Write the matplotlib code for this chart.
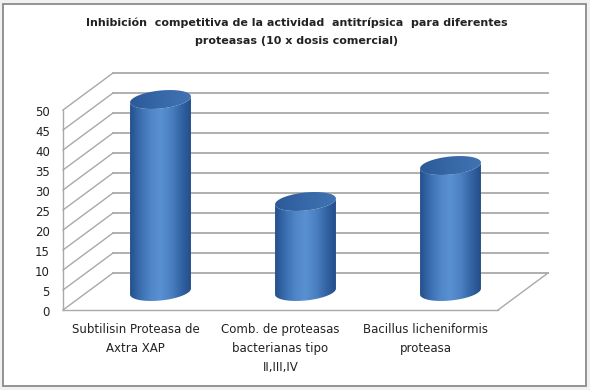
import numpy as np
import matplotlib
matplotlib.use("Agg")
import matplotlib.pyplot as plt
from matplotlib.patches import Polygon, Rectangle
from matplotlib.colors import LinearSegmentedColormap

# --- data ---
title = "Inhibición  competitiva de la actividad  antitrípsica  para diferentes\nproteasas (10 x dosis comercial)"
categories = ["Subtilisin Proteasa de\nAxtra XAP",
              "Comb. de proteasas\nbacterianas tipo\nII,III,IV",
              "Bacillus licheniformis\nproteasa"]
values = [48, 22.5, 31.5]
y_ticks = list(range(0, 55, 5))

# --- 3d look (oblique projection in data units) ---
depth_x = 50 / 145      # back wall shift in category units
depth_y = 9.25          # back wall shift in value units
bar_half = 0.21         # cylinder radius in category units
cap_h = 2.25            # ellipse half height in value units
cap_shear = 3.5         # tilt of the ellipse
grid_col = "#a9a9a9"

body_cmap = LinearSegmentedColormap.from_list(
    "cyl", ["#25508c", "#3a6eb0", "#4f86c8", "#5890d2", "#4c82c3", "#3566a6", "#244e8a"])
cap_cmap = LinearSegmentedColormap.from_list("cap", ["#2c5a98", "#3768a8", "#4172b2"])

fig = plt.figure(figsize=(5.9, 3.9), dpi=100)
fig.patch.set_facecolor("#f1f1f1")
frame = Rectangle((3 / 590, 4 / 390), 583 / 590, 382 / 390, transform=fig.transFigure,
                  facecolor="white", edgecolor="#8a8a8a", lw=1.3, zorder=-10)
fig.patches.append(frame)

# front plane: 4 px per value unit, 145 px per category; headroom above 50 for the 3d wall
ax = fig.add_axes([63 / 590, 80 / 390, 435 / 590, 250 / 390])
ax.axis("off")

fig.text(297 / 590, 1 - 32 / 390, title, ha="center", va="center", fontsize=8,
         fontweight="bold", color="#222222", linespacing=2.0)

# walls and gridlines
for v in y_ticks:
    ax.plot([0, depth_x], [v, v + depth_y], color=grid_col, lw=1.0, clip_on=False)
    ax.plot([depth_x, 3 + depth_x], [v + depth_y, v + depth_y], color=grid_col, lw=1.3, clip_on=False)
    ax.text(-0.09, v - 0.6, str(v), ha="right", va="center", fontsize=8.5, color="#222222")
ax.plot([0, 0], [0, y_ticks[-1]], color=grid_col, lw=1.0, clip_on=False)
ax.plot([0, 3], [0, 0], color=grid_col, lw=1.0, clip_on=False)
ax.plot([3, 3 + depth_x], [0, depth_y], color=grid_col, lw=1.0, clip_on=False)


def ellipse_pts(cx, cy, t):
    x = cx + bar_half * np.cos(t)
    y = cy + cap_h * np.sin(t) + cap_shear * bar_half * np.cos(t)
    return np.column_stack([x, y])


for i, v in enumerate(values):
    cx = i + 0.5 + depth_x / 2
    y0 = depth_y / 2
    y1 = y0 + v
    front = np.linspace(np.pi, 2 * np.pi, 60)
    bottom = ellipse_pts(cx, y0, front)
    top = ellipse_pts(cx, y1, front[::-1])
    body = Polygon(np.vstack([bottom, top]), closed=True, facecolor="none", edgecolor="none")
    ax.add_patch(body)
    grad = np.linspace(0, 1, 200).reshape(1, -1)
    im = ax.imshow(grad, cmap=body_cmap, aspect="auto", interpolation="bilinear",
                   extent=[cx - bar_half, cx + bar_half, y0 - 2 * cap_h, y1 + 2 * cap_h],
                   zorder=3)
    im.set_clip_path(body)
    cap = Polygon(ellipse_pts(cx, y1, np.linspace(0, 2 * np.pi, 100)), closed=True,
                  facecolor="none", edgecolor="none")
    ax.add_patch(cap)
    im2 = ax.imshow(grad, cmap=cap_cmap, aspect="auto", interpolation="bilinear",
                    extent=[cx - bar_half, cx + bar_half, y1 - 2 * cap_h, y1 + 2 * cap_h],
                    zorder=4)
    im2.set_clip_path(cap)

for i, c in enumerate(categories):
    ax.text(i + 0.5, -3.2, c, ha="center", va="top", fontsize=8.5, color="#222222",
            linespacing=1.6)

ax.set_xlim(0, 3)
ax.set_ylim(0, 62.5)

fig.savefig("out.png", dpi=100, facecolor=fig.get_facecolor())
